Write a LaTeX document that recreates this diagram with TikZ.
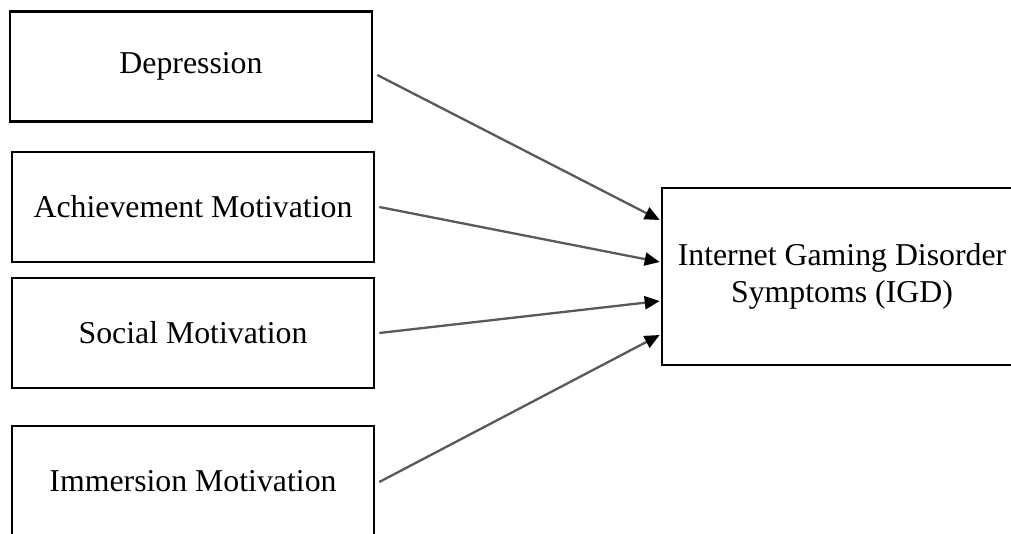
\documentclass[tikz,border=0pt]{standalone}
\usepackage{fontspec}
\setmainfont{Liberation Serif}
\usetikzlibrary{arrows.meta}

\begin{document}
\begin{tikzpicture}
	 [x=1pt,y=-1pt,
	  every node/.style={draw=black,line width=2.6pt,inner sep=0pt,align=center,
	    font=\fontsize{31.8}{37}\selectfont},
	  factor/.style={minimum width=362pt,minimum height=110pt},
	  link/.style={draw=black!65,line width=2.3pt,-{Triangle[length=15pt,width=13pt,fill=black,color=black]}}]

	\useasboundingbox (0,0) rectangle (1011,533);

	  \node[factor] (dep) at (191,66.5) {Depression};
	  \node[factor] (ach) at (193,207) {Achievement Motivation};
	  \node[factor] (soc) at (193,333) {Social Motivation};
	  \node[factor] (imm) at (193,481) {Immersion Motivation};
	  \node[minimum width=360pt,minimum height=177pt] (igd) at (842,276.5) {Internet Gaming Disorder\\Symptoms (IGD)};

	\foreach \from/\a/\b in {dep/-8.5/56.5,ach/0/14.5,soc/0/-24.5,imm/-1/-58.5}
    \draw[link] ([xshift=4pt,yshift=\a pt]\from.east) -- ([xshift=-1pt,yshift=\b pt]igd.west);

\end{tikzpicture}
\end{document}
